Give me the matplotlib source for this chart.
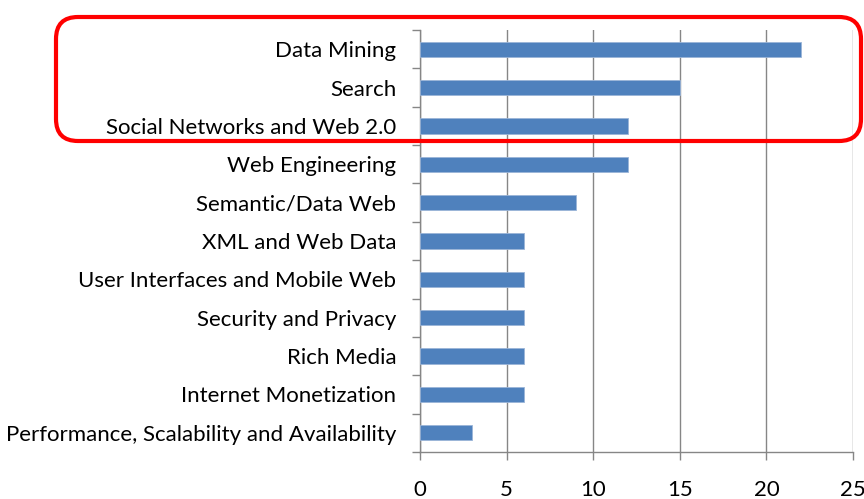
import matplotlib
matplotlib.use("Agg")
import matplotlib.pyplot as plt
from matplotlib.patches import FancyBboxPatch
from matplotlib.transforms import IdentityTransform
import numpy as np

categories = [
    "Data Mining",
    "Search",
    "Social Networks and Web 2.0",
    "Web Engineering",
    "Semantic/Data Web",
    "XML and Web Data",
    "User Interfaces and Mobile Web",
    "Security and Privacy",
    "Rich Media",
    "Internet Monetization",
    "Performance, Scalability and Availability",
]
values = [22, 15, 12, 12, 9, 6, 6, 6, 6, 6, 3]
x_ticks = [0, 5, 10, 15, 20, 25]

plt.rcParams['font.family'] = ['Lato', 'DejaVu Sans']

fig = plt.figure(figsize=(8.64, 4.99), dpi=100)
ax = fig.add_axes([420/864, 1-452/499, 433/864, 422/499])

n = len(categories)
ypos = np.arange(n)[::-1]
ax.barh(ypos, values, height=0.4, color="#4F81BD", edgecolor="#9BB5D8", linewidth=0.6, zorder=3)

ax.set_xlim(0, 25)
ax.set_ylim(-0.5, n - 0.5)
ax.set_xticks(x_ticks)
ax.set_xticklabels([str(t) for t in x_ticks])
ax.set_yticks(ypos)
ax.set_yticklabels(categories)
ax.set_yticks(np.arange(n + 1) - 0.5, minor=True)

ax.grid(axis="x", color="#868686", linewidth=1.0, zorder=0)
for s in ["top", "right"]:
    ax.spines[s].set_visible(False)
for s in ["left", "bottom"]:
    ax.spines[s].set_color("#868686")
    ax.spines[s].set_linewidth(1.0)

ax.tick_params(axis="y", which="major", length=0, pad=17, labelsize=16, labelcolor="black")
ax.tick_params(axis="y", which="minor", length=5.5, color="#868686", width=1.0)
ax.tick_params(axis="x", which="major", length=5.5, color="#868686", width=1.0, pad=15, labelsize=16)

box = FancyBboxPatch((56, 358), 805, 124, boxstyle="round,pad=0,rounding_size=22",
                     transform=IdentityTransform(), fill=False, edgecolor="#FF0000",
                     linewidth=3.0, zorder=10)
fig.add_artist(box)

fig.savefig("out.png", dpi=100)
